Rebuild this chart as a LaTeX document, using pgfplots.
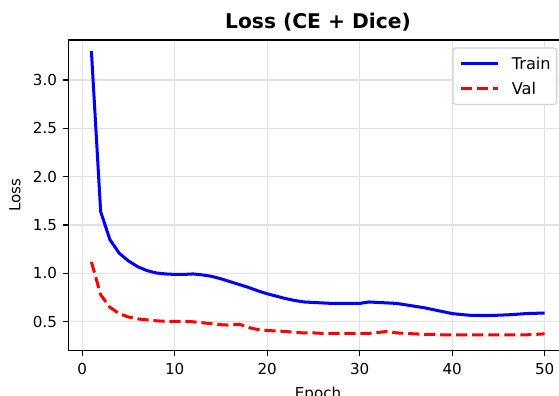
\documentclass[border=0pt]{standalone}
\usepackage{pgfplots}
\pgfplotsset{compat=1.18}
\usepackage{fontspec}
\setmainfont{DejaVu Sans}
\definecolor{gridc}{RGB}{225,225,225}
\definecolor{legc}{RGB}{210,210,210}
\begin{document}
\begin{tikzpicture}
\useasboundingbox (-45.5pt,-29.3pt) rectangle (324.5pt,232.2pt);
\clip (-45.5pt,-29.3pt) rectangle (324.5pt,232.2pt);
\begin{axis}[
  at={(0,0)}, anchor=south west,
  scale only axis,
  width=330pt, height=205.7pt,
  xmin=-1.45, xmax=52.45,
  ymin=0.2, ymax=3.414,
  xtick={0,10,20,30,40,50},
  ytick={0.5,1.0,1.5,2.0,2.5,3.0},
  /pgf/number format/assume math mode=true,
  tick label style={font=\fontsize{10}{12}\selectfont, text=black},
  xticklabel style={inner sep=0pt, anchor=north, yshift=-4.4pt},
  yticklabel style={inner sep=0pt, anchor=east, xshift=-4.1pt,
    /pgf/number format/fixed, /pgf/number format/fixed zerofill, /pgf/number format/precision=1},
  tick align=outside,
  major tick length=3.5pt,
  every tick/.style={black, line width=0.8pt},
  xtick pos=bottom, ytick pos=left,
  axis line style={black, line width=0.8pt},
  grid=major,
  major grid style={gridc, line width=0.8pt},
  title={\bfseries Loss (CE + Dice)},
  title style={font=\fontsize{13.4}{15}\selectfont, at={(axis description cs:0.5,1)}, anchor=base, inner sep=0pt, yshift=1.7pt},
  xlabel={Epoch},
  xlabel style={font=\fontsize{10}{12}\selectfont, at={(axis description cs:0.5,0)}, anchor=north, inner sep=0pt, yshift=-23.6pt},
  ylabel={Loss},
  ylabel style={font=\fontsize{10}{12}\selectfont, at={(axis description cs:0,0.5)}, anchor=center, inner sep=0pt, rotate=0, yshift=35.6pt},
  legend style={at={(0.98,0.9765)}, anchor=north east, draw=legc, line width=0.8pt, rounded corners=2pt,
    fill=white, font=\fontsize{10.7}{12}\selectfont, inner xsep=4pt, inner ysep=6.5pt,
    row sep=8.8pt, column sep=8pt,
    nodes={inner sep=0pt, text height=7.8pt, text depth=0pt, anchor=west}},
  legend cell align=left,
  legend image code/.code={\draw[#1] (0pt,0pt) -- (25pt,0pt);},
]
\addplot[blue, line width=2pt] coordinates {
(1,3.30) (2,1.64) (3,1.35) (4,1.21) (5,1.13) (6,1.07) (7,1.03) (8,1.005) (9,0.995) (10,0.99)
(11,0.99) (12,0.995) (13,0.985) (14,0.97) (15,0.945) (16,0.915) (17,0.885) (18,0.855) (19,0.82) (20,0.79)
(21,0.765) (22,0.74) (23,0.72) (24,0.705) (25,0.70) (26,0.695) (27,0.69) (28,0.69) (29,0.69) (30,0.69)
(31,0.705) (32,0.70) (33,0.695) (34,0.69) (35,0.675) (36,0.66) (37,0.645) (38,0.625) (39,0.605) (40,0.585)
(41,0.575) (42,0.567) (43,0.565) (44,0.565) (45,0.568) (46,0.572) (47,0.578) (48,0.585) (49,0.588) (50,0.59)
};
\addlegendentry{Train}
\addplot[red, line width=2pt, dash pattern=on 7.4pt off 3.2pt] coordinates {
(1,1.12) (2,0.78) (3,0.65) (4,0.585) (5,0.55) (6,0.53) (7,0.52) (8,0.51) (9,0.505) (10,0.505)
(11,0.505) (12,0.50) (13,0.49) (14,0.48) (15,0.47) (16,0.465) (17,0.475) (18,0.44) (19,0.42) (20,0.41)
(21,0.405) (22,0.40) (23,0.39) (24,0.385) (25,0.385) (26,0.38) (27,0.38) (28,0.38) (29,0.38) (30,0.38)
(31,0.38) (32,0.39) (33,0.40) (34,0.385) (35,0.38) (36,0.375) (37,0.37) (38,0.37) (39,0.365) (40,0.365)
(41,0.365) (42,0.365) (43,0.365) (44,0.365) (45,0.365) (46,0.365) (47,0.365) (48,0.365) (49,0.37) (50,0.375)
};
\addlegendentry{Val}
\end{axis}
\end{tikzpicture}
\end{document}
